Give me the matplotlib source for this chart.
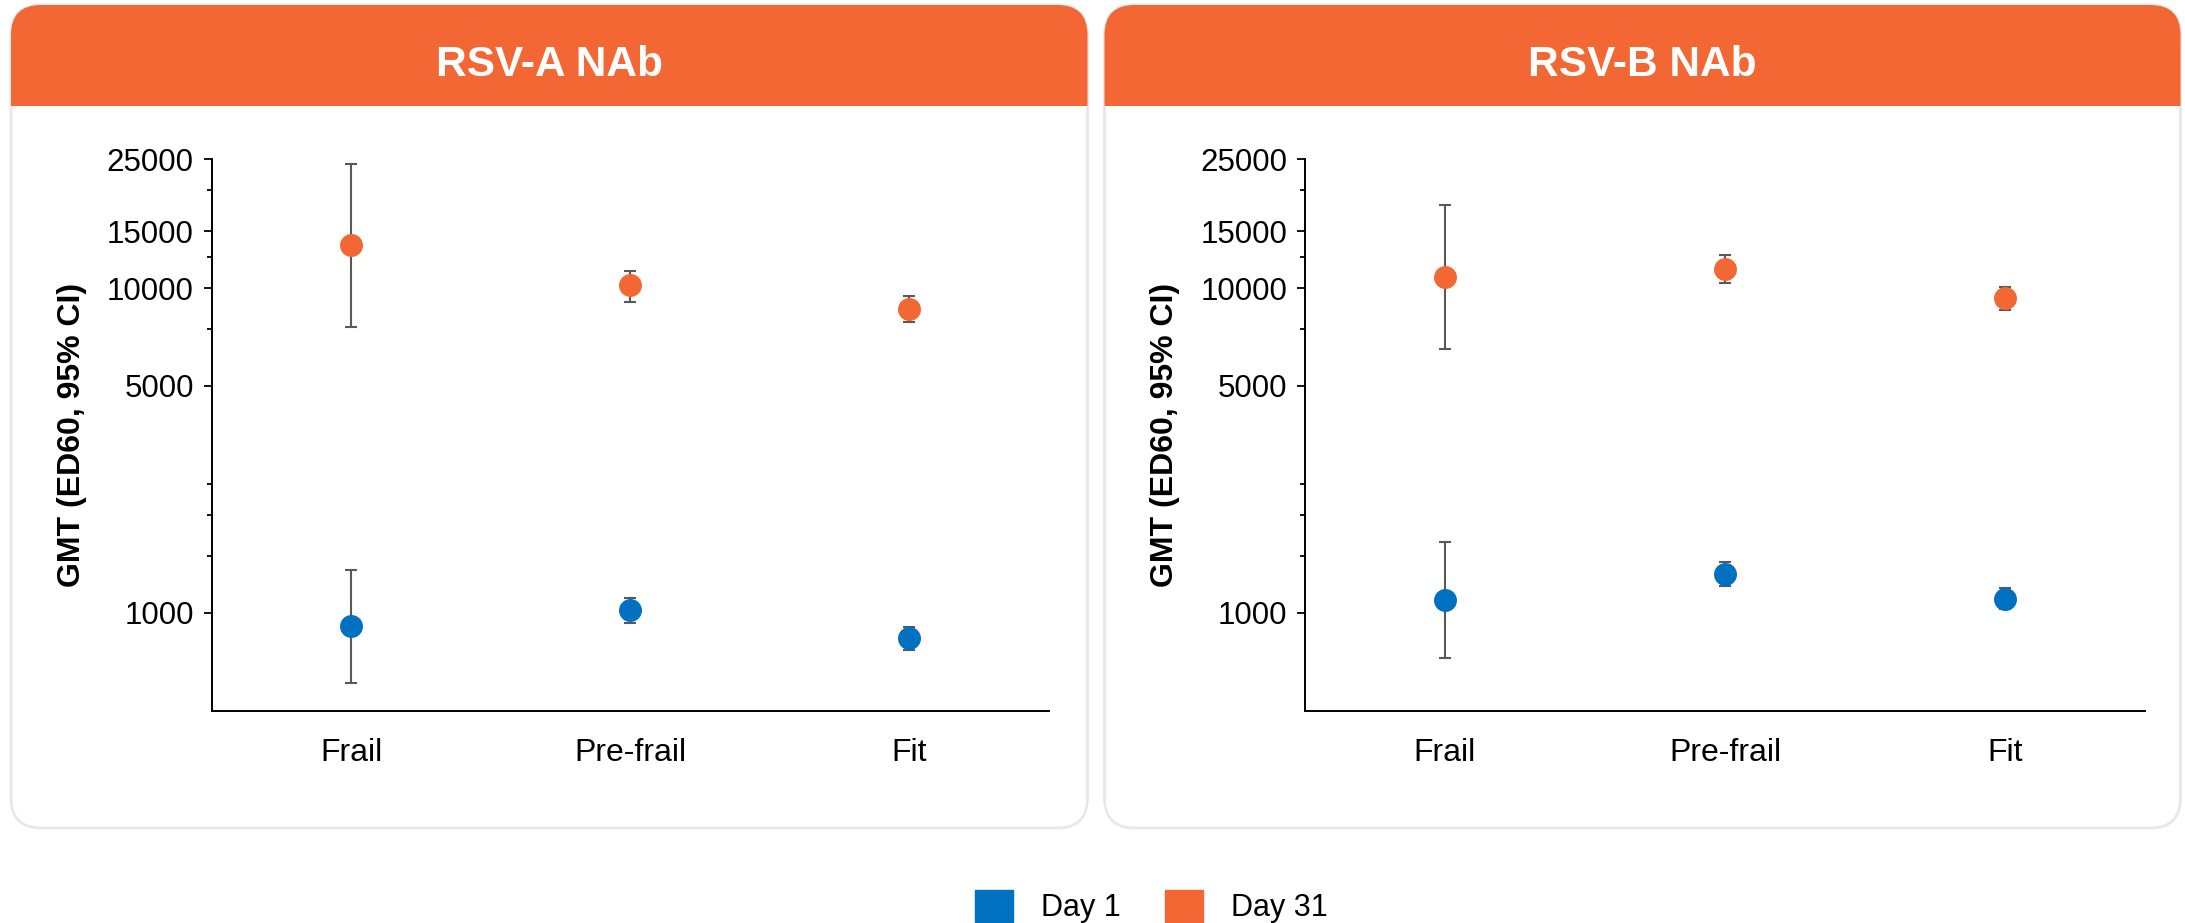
import numpy as np
import matplotlib
matplotlib.use("Agg")
import matplotlib.pyplot as plt
from matplotlib.patches import FancyBboxPatch, Rectangle, Patch
from matplotlib.ticker import FixedLocator, FixedFormatter, NullFormatter

plt.rcParams["font.family"] = ["Liberation Sans", "DejaVu Sans"]

# GMT with 95% CI by frailty group
categories = ["Frail", "Pre-frail", "Fit"]

rsva_day1 = [911, 1022, 838]
rsva_day1_lo = [609, 929, 770]
rsva_day1_hi = [1354, 1112, 906]
rsva_day31 = [13600, 10200, 8630]
rsva_day31_lo = [7590, 9070, 7870]
rsva_day31_hi = [24100, 11300, 9440]

rsvb_day1 = [1094, 1318, 1106]
rsvb_day1_lo = [724, 1209, 1027]
rsvb_day1_hi = [1652, 1438, 1196]
rsvb_day31 = [10850, 11450, 9300]
rsvb_day31_lo = [6500, 10390, 8550]
rsvb_day31_hi = [18000, 12630, 10060]

major_ticks = [1000, 5000, 10000, 15000, 25000]
minor_ticks = [1500, 2000, 2500, 7500, 12500, 20000]

BLUE = "#0070C0"
ORANGE = "#F36734"
BAR_GREY = "#595959"

W, H = 2185, 923
fig = plt.figure(figsize=(W / 100, H / 100), dpi=100)

# background layer in pixel units for the rounded cards
bg = fig.add_axes([0, 0, 1, 1], zorder=0)
bg.set_xlim(0, W)
bg.set_ylim(H, 0)
bg.axis("off")


def draw_card(x0, x1, title):
    y0, y1, r = 5, 828, 30
    card = FancyBboxPatch((x0 + r, y0 + r), x1 - x0 - 2 * r, y1 - y0 - 2 * r,
                          boxstyle=f"round,pad={r}", fc="white", ec="#e8e8e8", lw=2)
    bg.add_patch(card)
    header = Rectangle((x0 - 5, y0 - 5), x1 - x0 + 10, 106, fc=ORANGE, ec="none")
    bg.add_patch(header)
    header.set_clip_path(card)
    bg.text((x0 + x1) / 2, 65, title, color="white", fontsize=30.5,
            fontweight="bold", ha="center", va="center")


def draw_panel(rect, d1, d1_lo, d1_hi, d31, d31_lo, d31_hi):
    ax = fig.add_axes(rect, zorder=1)
    ax.set_facecolor("none")
    x = np.arange(1, len(categories) + 1)
    for vals, lo, hi, color in [(d1, d1_lo, d1_hi, BLUE), (d31, d31_lo, d31_hi, ORANGE)]:
        vals = np.asarray(vals, dtype=float)
        yerr = [vals - np.asarray(lo), np.asarray(hi) - vals]
        ax.errorbar(x, vals, yerr=yerr, fmt="o", ms=15.5, color=color, mec=color,
                    ecolor=BAR_GREY, elinewidth=1.5, capsize=4, capthick=1.5)

    ax.set_yscale("log")
    ax.set_ylim(500, 25000)
    ax.set_xlim(0.5, 3.5)
    ax.yaxis.set_major_locator(FixedLocator(major_ticks))
    ax.yaxis.set_major_formatter(FixedFormatter([str(t) for t in major_ticks]))
    ax.yaxis.set_minor_locator(FixedLocator(minor_ticks))
    ax.yaxis.set_minor_formatter(NullFormatter())
    ax.tick_params(axis="y", which="major", length=5.8, width=1.3, labelsize=22.5, pad=7)
    ax.tick_params(axis="y", which="minor", length=3.8, width=1.3)

    ax.set_xticks(x)
    ax.set_xticklabels(categories)
    ax.tick_params(axis="x", length=0, labelsize=23, pad=20)

    for side in ["top", "right"]:
        ax.spines[side].set_visible(False)
    for side in ["left", "bottom"]:
        ax.spines[side].set_linewidth(1.4)
        ax.spines[side].set_color("black")

    ax.set_ylabel("GMT (ED60, 95% CI)", fontsize=23, fontweight="bold", va="center")
    ax.yaxis.set_label_coords(-0.1666, 0.5)
    return ax


draw_card(11, 1087.5, "RSV-A NAb")
draw_card(1104.5, 2180.5, "RSV-B NAb")

draw_panel([211.5 / W, 212.5 / H, 837.3 / W, 551.5 / H],
           rsva_day1, rsva_day1_lo, rsva_day1_hi, rsva_day31, rsva_day31_lo, rsva_day31_hi)
draw_panel([1305 / W, 212.5 / H, 840 / W, 551.5 / H],
           rsvb_day1, rsvb_day1_lo, rsvb_day1_hi, rsvb_day31, rsvb_day31_lo, rsvb_day31_hi)

handles = [Patch(color=BLUE), Patch(color=ORANGE)]
fig.legend(handles, ["Day 1", "Day 31"], loc="lower center", bbox_to_anchor=(0.527, 0.0),
           ncol=2, frameon=False, fontsize=22, handlelength=1.24, handleheight=1.24,
           handletextpad=0.92, columnspacing=1.47, borderpad=0, borderaxespad=0)

fig.savefig("out.png", dpi=100, facecolor="white")
